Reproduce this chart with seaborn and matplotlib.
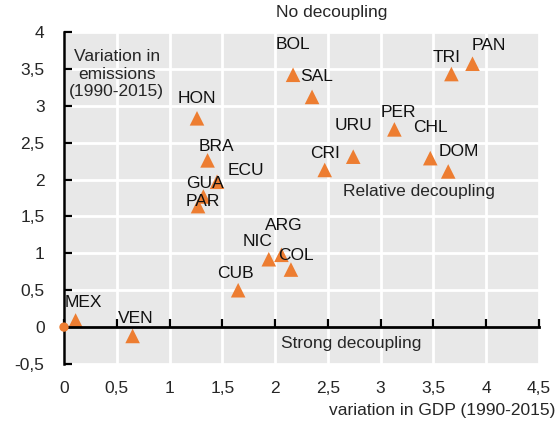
import matplotlib
matplotlib.use('Agg')
import pandas as pd
import seaborn as sns
import matplotlib.pyplot as plt

# Data
countries = ['MEX', 'VEN', 'CUB', 'NIC', 'ARG', 'COL', 'HON', 'BRA', 'ECU', 'GUA',
             'PAR', 'BOL', 'SAL', 'CRI', 'URU', 'PER', 'CHL', 'DOM', 'TRI', 'PAN']
gdp_variation = [0.11, 0.65, 1.65, 1.94, 2.06, 2.15, 1.26, 1.36, 1.45, 1.32,
                 1.27, 2.17, 2.35, 2.47, 2.74, 3.13, 3.47, 3.64, 3.67, 3.87]
emission_variation = [0.09, -0.12, 0.50, 0.92, 0.98, 0.78, 2.83, 2.26, 1.97, 1.77,
                      1.64, 3.42, 3.12, 2.13, 2.31, 2.68, 2.29, 2.11, 3.43, 3.57]
x_ticks = [0, 0.5, 1, 1.5, 2, 2.5, 3, 3.5, 4, 4.5]
y_ticks = [-0.5, 0, 0.5, 1, 1.5, 2, 2.5, 3, 3.5, 4]

df = pd.DataFrame({'country': countries, 'gdp': gdp_variation, 'emissions': emission_variation})

# label offsets in pixels (dx, dy) relative to each marker
label_offsets = {
    'MEX': (8, 18), 'VEN': (3, 17), 'CUB': (-3, 17), 'NIC': (-11, 18), 'ARG': (2, 29),
    'COL': (5, 14), 'HON': (0, 20), 'BRA': (9, 14), 'ECU': (29, 11), 'GUA': (2, 13),
    'PAR': (5, 5), 'BOL': (0, 30), 'SAL': (5, 20), 'CRI': (0, 16), 'URU': (0, 31),
    'PER': (4, 17), 'CHL': (0, 31), 'DOM': (11, 20), 'TRI': (-5, 17), 'PAN': (16, 18),
}

orange = '#ED7D31'

sns.set_style('darkgrid', {'axes.facecolor': '#E8E8E8', 'grid.color': 'white'})
plt.rcParams['font.family'] = ['Liberation Sans', 'DejaVu Sans']

def fmt(v):
    return ('%g' % v).replace('.', ',')

fig = plt.figure(figsize=(5.59, 4.25), dpi=100)
ax = fig.add_axes([64 / 559, 1 - 364 / 425, 475 / 559, 332 / 425])

sns.scatterplot(data=df, x='gdp', y='emissions', marker='^', s=110, color=orange,
                edgecolor='none', ax=ax, zorder=3)
sns.scatterplot(x=[0], y=[0], marker='o', s=45, color=orange, edgecolor='none',
                ax=ax, zorder=6, clip_on=False)

for _, row in df.iterrows():
    dx, dy = label_offsets[row['country']]
    ax.annotate(row['country'], (row['gdp'], row['emissions']), xytext=(dx, dy),
                textcoords='offset pixels', ha='center', va='center', fontsize=12.5,
                color='#111111', zorder=5)

ax.set_xlim(0, 4.5)
ax.set_ylim(-0.5, 4)
ax.set_xticks(x_ticks)
ax.set_yticks(y_ticks)
ax.set_xticklabels([fmt(v) for v in x_ticks], fontsize=12.5)
ax.set_yticklabels([fmt(v) for v in y_ticks], fontsize=12.5)
ax.grid(True, color='white', linewidth=2)
ax.set_xlabel('')
ax.set_ylabel('')

for side in ['top', 'right', 'bottom']:
    ax.spines[side].set_visible(False)
ax.spines['left'].set_visible(True)
ax.spines['left'].set_color('black')
ax.spines['left'].set_linewidth(1.8)
ax.spines['left'].set_zorder(5)

ax.tick_params(axis='y', direction='in', length=6, width=1.6, color='black', pad=14, left=True)
ax.tick_params(axis='x', length=0, pad=12)

# zero line with ticks
secax = ax.secondary_xaxis(0.5 / 4.5)
secax.set_zorder(5)
secax.set_xticks(x_ticks)
secax.set_xticklabels([])
secax.tick_params(direction='in', length=6, width=1.6, color='black', bottom=True)
secax.spines['bottom'].set_linewidth(2)
secax.spines['bottom'].set_color('black')

ax.text(0.50, 3.43, 'Variation in\nemissions\n(1990-2015)', ha='center', va='center',
        fontsize=12.5, linespacing=1.2)
ax.text(3.36, 1.84, 'Relative decoupling', ha='center', va='center', fontsize=12.5)
ax.text(2.72, -0.22, 'Strong decoupling', ha='center', va='center', fontsize=12.5)
ax.text(2.54, 4.26, 'No decoupling', ha='center', va='center', fontsize=12.5, clip_on=False)
fig.text(555 / 559, 1 - 410 / 425, 'variation in GDP (1990-2015)', ha='right', va='center',
         fontsize=12.5)

fig.savefig('out.png', dpi=100)
